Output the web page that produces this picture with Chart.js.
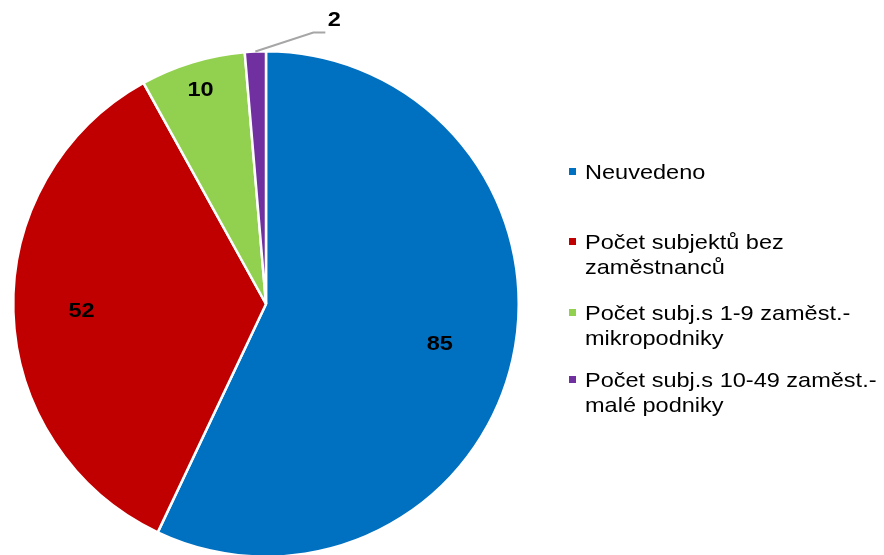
<!DOCTYPE html>
<html>
<head>
<meta charset="utf-8">
<script src="https://cdn.jsdelivr.net/npm/chart.js@4.4.1/dist/chart.umd.min.js"></script>
<style>
  html, body { margin: 0; padding: 0; background: #fff; overflow: hidden; }
  #wrap { width: 884px; height: 555px; overflow: hidden; position: relative; }
  canvas { display: block; }
</style>
</head>
<body>
<div id="wrap">
  <canvas id="pieChart" width="884" height="560"></canvas>
</div>
<script>
const categories = [
  'Neuvedeno',
  'Počet subjektů bez zaměstnanců',
  'Počet subj.s 1-9 zaměst.-mikropodniky',
  'Počet subj.s 10-49 zaměst.-malé podniky'
];
const legendLines = [
  ['Neuvedeno'],
  ['Počet subjektů bez', 'zaměstnanců'],
  ['Počet subj.s 1-9 zaměst.-', 'mikropodniky'],
  ['Počet subj.s 10-49 zaměst.-', 'malé podniky']
];
const values = [85, 52, 10, 2];
const colors = ['#0070C0', '#C00000', '#92D050', '#7030A0'];

// where each value label sits, as a fraction of the radius
const labelRadius = [0.705, 0.73, 0.89, null];

const FONT = '"Liberation Sans", Arial, sans-serif';
const STRETCH = 1.12;

function stretchedText(ctx, text, x, y, align) {
  ctx.save();
  ctx.translate(x, y);
  ctx.scale(STRETCH, 1);
  ctx.textAlign = align;
  ctx.fillText(text, 0, 0);
  ctx.restore();
}

const pieLabels = {
  id: 'pieLabels',
  afterDatasetsDraw(chart) {
    const ctx = chart.ctx;
    const meta = chart.getDatasetMeta(0);
    ctx.save();
    ctx.fillStyle = '#000';
    ctx.font = 'bold 21px ' + FONT;
    ctx.textBaseline = 'middle';
    meta.data.forEach((arc, i) => {
      const p = arc.getProps(['x', 'y', 'startAngle', 'endAngle', 'outerRadius']);
      const mid = (p.startAngle + p.endAngle) / 2;
      if (labelRadius[i] !== null) {
        const r = p.outerRadius * labelRadius[i];
        stretchedText(ctx, String(values[i]), p.x + Math.cos(mid) * r, p.y + Math.sin(mid) * r + 1, 'center');
      } else {
        // small slice: leader line out to the label
        const x0 = p.x + Math.cos(mid) * p.outerRadius;
        const y0 = p.y + Math.sin(mid) * p.outerRadius;
        const x1 = x0 + 58, y1 = y0 - 19;
        ctx.strokeStyle = '#A6A6A6';
        ctx.lineWidth = 2;
        ctx.beginPath();
        ctx.moveTo(x0, y0);
        ctx.lineTo(x1, y1);
        ctx.lineTo(x1 + 12, y1);
        ctx.stroke();
        stretchedText(ctx, String(values[i]), x1 + 21, y1 - 12, 'center');
      }
    });
    ctx.restore();
  }
};

const sideLegend = {
  id: 'sideLegend',
  afterDraw(chart) {
    const ctx = chart.ctx;
    const tops = [172, 242, 313, 380];
    const lineGap = 25;
    ctx.save();
    ctx.font = '21px ' + FONT;
    ctx.textBaseline = 'middle';
    legendLines.forEach((lines, i) => {
      ctx.fillStyle = colors[i];
      ctx.fillRect(569, tops[i] - 4, 7, 7);
      ctx.fillStyle = '#000';
      lines.forEach((t, j) => {
        stretchedText(ctx, t, 585, tops[i] + j * lineGap + 1, 'left');
      });
    });
    ctx.restore();
  }
};

const chart = new Chart(document.getElementById('pieChart'), {
  type: 'pie',
  data: {
    labels: categories,
    datasets: [{
      data: values,
      backgroundColor: colors,
      borderColor: '#FFFFFF',
      borderWidth: 2.5
    }]
  },
  options: {
    responsive: false,
    animation: false,
    layout: { padding: { left: 12, right: 364, top: 50, bottom: 2 } },
    plugins: {
      legend: { display: false },
      tooltip: { enabled: false }
    }
  },
  plugins: [pieLabels, sideLegend]
});
</script>
</body>
</html>
